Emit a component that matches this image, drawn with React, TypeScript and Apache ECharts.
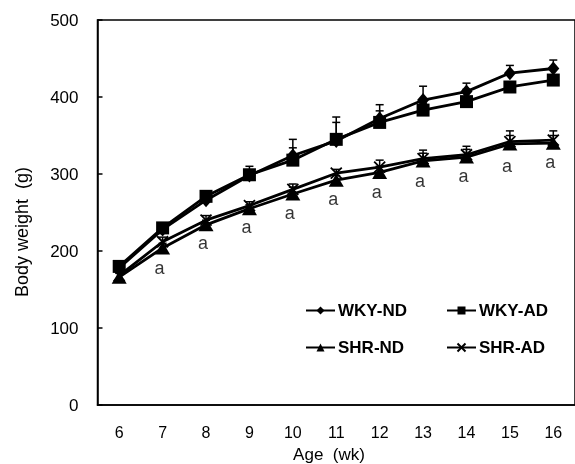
import React, { useEffect, useRef } from "react";
import * as echarts from "echarts";

const weeks = ["6", "7", "8", "9", "10", "11", "12", "13", "14", "15", "16"];
const wkyND = [178, 228, 266, 298, 324, 343, 372, 396, 407, 431, 437];
const wkyAD = [180, 230, 271, 299, 318, 345, 367, 383, 394, 413, 422];
const shrND = [166, 204, 234, 255, 274, 292, 302, 317, 322, 339, 340];
const shrAD = [168, 212, 240, 259, 280, 301, 309, 320, 325, 342, 344];
const wkyNDUp = [184, 236, 276, 310, 345, 374, 390, 414, 418, 441, 448];
const wkyADUp = [185, 234, 275, 303, 334, 367, 382, 392, 410, 418, 428];
const shrNDUp = [171, 210, 240, 260, 283, 298, 310, 327, 332, 350, 350];
const shrADUp = [173, 218, 246, 264, 287, 306, 318, 331, 336, 356, 356];
const sigWeeks = ["7", "8", "9", "10", "11", "12", "13", "14", "15", "16"];
const sigPos = [178, 211, 231, 249, 268, 277, 291, 297, 311, 316];

const FONT = "Liberation Sans";
const XMARK = "path://M0,0L10,10M0,10L10,0";
const seriesVals: Record<string, number[]> = { wkyND, wkyAD, shrND, shrAD };

function errSeries(name: string, up: number[]) {
  return {
    type: "custom",
    name: name + "-err",
    z: 1,
    silent: true,
    data: weeks.map((w, i) => [i, up[i]]),
    renderItem: (params: any, api: any) => {
      const i = api.value(0);
      const top = api.coord([i, api.value(1)]);
      const base = api.coord([i, seriesVals[name][i]]);
      return {
        type: "group",
        children: [
          { type: "line", shape: { x1: top[0], y1: top[1], x2: base[0], y2: base[1] }, style: { stroke: "#000", lineWidth: 1.5 } },
          { type: "line", shape: { x1: top[0] - 4, y1: top[1], x2: top[0] + 4, y2: top[1] }, style: { stroke: "#000", lineWidth: 1.5 } },
        ],
      };
    },
  };
}

export default function App() {
  const ref = useRef<HTMLDivElement>(null);
  useEffect(() => {
    const chart = echarts.init(ref.current!, undefined, { renderer: "svg" });
    const lineBase = (name: string, data: number[], symbol: string, size: number | number[], extra: any = {}) => ({
      type: "line",
      name,
      data,
      symbol,
      symbolSize: size,
      z: 3,
      lineStyle: { color: "#000", width: 2.8 },
      itemStyle: { color: "#000", borderColor: "#000", borderWidth: 0, ...extra },
    });
    const legendBase = {
      orient: "vertical",
      top: 297,
      itemWidth: 29,
      itemHeight: 10,
      itemGap: 20,
      textStyle: { color: "#000", fontFamily: FONT, fontSize: 17, fontWeight: "bold", padding: [0, 0, 0, -2] },
    };
    chart.setOption({
      animation: false,
      grid: { left: 97.5, right: -11, top: 20, bottom: 59, show: true, borderColor: "#000", borderWidth: 1.5 },
      xAxis: {
        type: "category",
        data: weeks,
        boundaryGap: true,
        axisLine: { lineStyle: { color: "#000", width: 1.5 } },
        axisTick: { inside: true, length: 5, lineStyle: { color: "#000", width: 1.5 } },
        axisLabel: { color: "#000", fontFamily: FONT, fontSize: 16, margin: 19 },
      },
      yAxis: {
        type: "value",
        min: 0,
        max: 500,
        interval: 100,
        splitLine: { show: false },
        axisLine: { show: true, lineStyle: { color: "#000", width: 1.5 } },
        axisTick: { show: true, inside: true, length: 5, lineStyle: { color: "#000", width: 1.5 } },
        axisLabel: { color: "#000", fontFamily: FONT, fontSize: 17, margin: 19 },
      },
      legend: [
        { ...legendBase, left: 300, data: ["WKY-ND", "SHR-ND"] },
        { ...legendBase, left: 441, data: ["WKY-AD", "SHR-AD"] },
      ],
      graphic: [
        {
          type: "text",
          x: 329,
          y: 454,
          style: { text: "Age  (wk)", fill: "#000", font: `17px ${FONT}`, align: "center", verticalAlign: "middle" },
        },
        {
          type: "text",
          x: 22,
          y: 232,
          rotation: Math.PI / 2,
          style: { text: "Body weight  (g)", fill: "#000", font: `18px ${FONT}`, align: "center", verticalAlign: "middle" },
        },
      ],
      series: [
        errSeries("wkyND", wkyNDUp),
        errSeries("wkyAD", wkyADUp),
        errSeries("shrND", shrNDUp),
        errSeries("shrAD", shrADUp),
        lineBase("WKY-ND", wkyND, "diamond", [12, 14]),
        lineBase("WKY-AD", wkyAD, "rect", 13),
        lineBase("SHR-ND", shrND, "triangle", [15, 13]),
        lineBase("SHR-AD", shrAD, XMARK, 11, { color: "none", borderWidth: 1.8 }),
        {
          type: "scatter",
          name: "sig",
          data: sigWeeks.map((w, i) => [w, sigPos[i]]),
          symbolSize: 1,
          itemStyle: { color: "transparent" },
          label: {
            show: true,
            position: "inside",
            offset: [-3, 0],
            formatter: "a",
            color: "#000",
            fontFamily: FONT,
            fontSize: 18,
          },
          silent: true,
        },
      ],
    });
    return () => chart.dispose();
  }, []);
  return <div ref={ref} style={{ position: "fixed", left: 0, top: 0, width: 575, height: 464 }} />;
}
